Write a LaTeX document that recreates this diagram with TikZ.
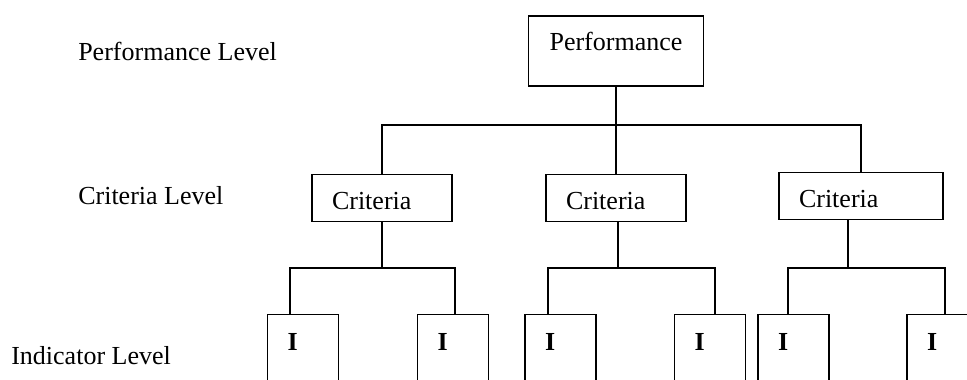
\documentclass[tikz,border=0pt]{standalone}
\usepackage{fontspec}
\setmainfont{Liberation Serif}
\usepackage{tikz}

\begin{document}
\begin{tikzpicture}[
    font = \fontsize{18.5}{22}\selectfont,
    link/.style = {line width=0.9pt},
    level/.style = {anchor=base west, inner sep=0pt},
    box/.style = {draw, line width=1pt, inner sep=0pt},
    topbox/.style = {box, minimum width=4.375cm,
      text height=0.875cm, text depth=0.875cm},
    critbox/.style = {box, anchor=north, inner xsep=0.5cm, align=left,
      text height=0.875cm, text depth=0.3cm},
    indbox/.style = {box, anchor=north, inner xsep=0.5cm, text width=0.775cm,
      align=left, text height=0.9cm, text depth=1.6cm, font=\fontsize{18.5}{22}\selectfont\bfseries}
    ]
    \useasboundingbox (0,0) rectangle (24.175,9.5);
    \clip (0,0) rectangle (24.175,9.5);
    % level names
    \node[level] (perfLevel) at (1.95,7.975) {Performance Level};
    \node[level] (critLevel) at (1.95,4.375) {Criteria Level};
    \node[level] (indLevel) at (0.275,0.375) {Indicator Level};
    % boxes
    \node[topbox] (perf) at (15.4,8.225) {Performance};
    \node[critbox, text width=2.5cm] (crit1) at (9.55,5.15) {Criteria};
    \node[critbox, text width=2.5cm] (crit2) at (15.4,5.15) {Criteria};
    \node[critbox, text width=3.1cm] (crit3) at (21.525,5.2) {Criteria};
    \foreach \x/\n in {7.575/1, 11.325/2, 14.0125/3, 17.75/4, 19.8375/5, 23.5625/6}
      \node[indbox] (ind\n) at (\x,1.65) {I};
    % connectors
    \coordinate (hub) at (15.4,6.375);
    \draw[link] (perf.south) -- (hub);
    \draw[link] (crit1.north) |- (hub) -| (crit3.north);
    \draw[link] (crit2.north) -- (hub);
    \foreach \c/\a/\b/\xl/\xr/\xm in {crit1/ind1/ind2/7.25/11.375/9.55,
        crit2/ind3/ind4/13.7/17.875/15.45, crit3/ind5/ind6/19.7/23.625/21.2} {
      \draw[link] (\c.south -| \xm,0) -- (\xm,2.8);
      \draw[link] (\a.north -| \xl,0) |- (\xr,2.8) -- (\b.north -| \xr,0);
    }
\end{tikzpicture}
\end{document}
